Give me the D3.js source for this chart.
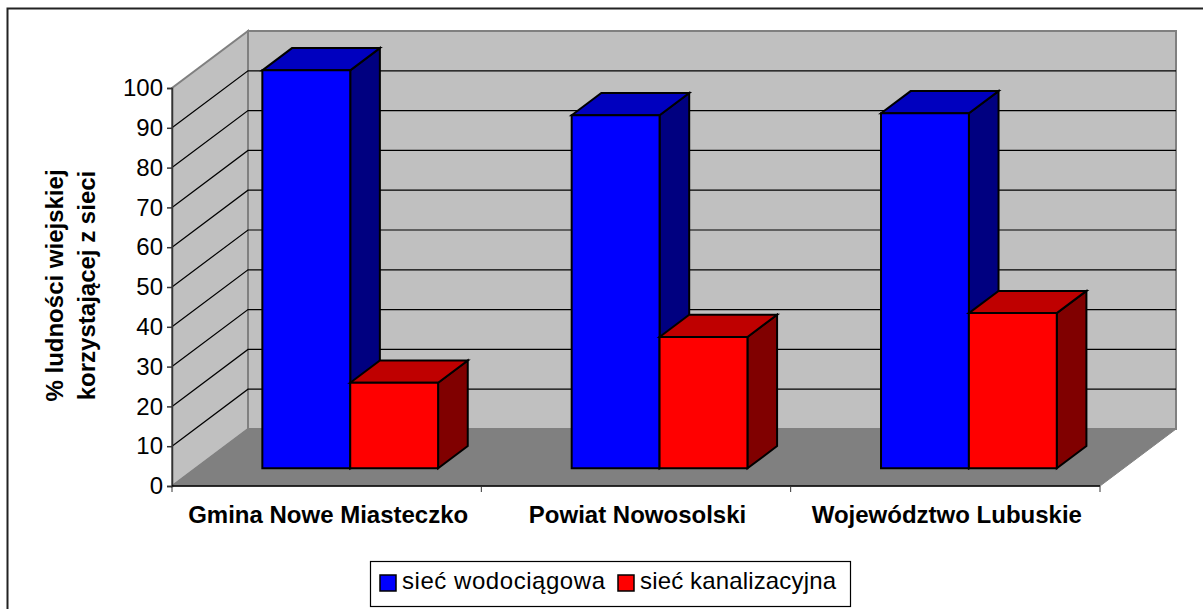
<!DOCTYPE html>
<html>
  <head>
    <meta charset="utf-8">
    <script type="text/javascript" src="https://d3js.org/d3.v7.min.js"></script>
    <title></title>
    <style media="screen">
      html, body { margin: 0; padding: 0; background: #fff; overflow: hidden; }
      svg { display: block; }
      text { font-family: "Liberation Sans", Arial, sans-serif; fill: #000; }
    </style>
  </head>
  <body>
    <script type="text/javascript">

    var categories = ["Gmina Nowe Miasteczko", "Powiat Nowosolski", "Województwo Lubuskie"];
    var seriesNames = ["sieć wodociągowa", "sieć kanalizacyjna"];
    var wodociagowa = [100, 88.7, 89.2];
    var kanalizacyjna = [21.5, 33, 39];
    var yTicks = [0, 10, 20, 30, 40, 50, 60, 70, 80, 90, 100];
    var yTitle = ["% ludności wiejskiej", "korzystającej z sieci"];

    var seriesValues = [wodociagowa, kanalizacyjna];
    var faceColors = [
      {front: "#0000ff", top: "#0000bf", side: "#000080"},
      {front: "#ff0000", top: "#bf0000", side: "#800000"}
    ];

    var width = 1203, height = 609;

    var svg = d3.select("body").append("svg")
        .attr("width", width)
        .attr("height", height);

    // front plane of the plot
    var x = d3.scaleBand().domain(categories).range([172, 1100]);
    var y = d3.scaleLinear().domain([0, 100]).range([486, 88]);

    // oblique projection, depth 0 = front of floor, 1 = back wall
    var depthX = d3.scaleLinear().domain([0, 1]).range([0, 76]);
    var depthY = d3.scaleLinear().domain([0, 1]).range([0, -57]);

    // two bars per category, gap of 75% of a bar on both sides
    var inner = d3.scaleBand().domain([0, 1]).range([0, x.bandwidth()]).paddingInner(0).paddingOuter(0.76);

    var barFront = 0.31, barBack = 0.70;

    function pt(px, value, depth) {
      return [px + depthX(depth), y(value) + depthY(depth)];
    }

    function poly(points) {
      return d3.line()(points) + "Z";
    }

    var x0 = x.range()[0], x1 = x.range()[1];

    // chart frame, its right and bottom edges are cut off by the window
    svg.append("rect")
        .attr("x", 7.5).attr("y", 8.5)
        .attr("width", 1300).attr("height", 640)
        .attr("fill", "#fff")
        .attr("stroke", "#222")
        .attr("stroke-width", 2);

    // walls and floor
    svg.append("path")
        .attr("d", poly([pt(x0, 0, 1), pt(x0, 100, 1), pt(x1, 100, 1), pt(x1, 0, 1)]))
        .attr("fill", "#c0c0c0")
        .attr("stroke", "#808080")
        .attr("stroke-width", 2);

    svg.append("path")
        .attr("d", poly([pt(x0, 0, 0), pt(x0, 100, 0), pt(x0, 100, 1), pt(x0, 0, 1)]))
        .attr("fill", "#c0c0c0")
        .attr("stroke", "#808080")
        .attr("stroke-width", 2);

    svg.append("path")
        .attr("d", poly([pt(x0, 0, 0), pt(x0, 0, 1), pt(x1, 0, 1), pt(x1, 0, 0)]))
        .attr("fill", "#808080")
        .attr("stroke", "#808080")
        .attr("stroke-width", 1);

    // gridlines, along side wall then back wall
    var grid = yTicks.filter(function(d) { return d > 0 && d < 100; });

    svg.append("g").selectAll("path")
        .data(grid)
      .enter().append("path")
        .attr("d", function(d) { return d3.line()([pt(x0, d, 0), pt(x0, d, 1), pt(x1, d, 1)]); })
        .attr("fill", "none")
        .attr("stroke", "#000")
        .attr("stroke-width", 1.2);

    // bars
    var bars = [];
    categories.forEach(function(c, i) {
      seriesValues.forEach(function(vals, s) {
        bars.push({cat: c, s: s, value: vals[i]});
      });
    });

    var bar = svg.append("g").selectAll("g")
        .data(bars)
      .enter().append("g")
        .attr("stroke", "#000")
        .attr("stroke-width", 2)
        .attr("stroke-linejoin", "miter");

    function left(d) { return x(d.cat) + inner(d.s); }
    function right(d) { return left(d) + inner.bandwidth(); }

    bar.append("path")
        .attr("d", function(d) {
          return poly([pt(right(d), 0, barFront), pt(right(d), d.value, barFront), pt(right(d), d.value, barBack), pt(right(d), 0, barBack)]);
        })
        .attr("fill", function(d) { return faceColors[d.s].side; });

    bar.append("path")
        .attr("d", function(d) {
          return poly([pt(left(d), d.value, barFront), pt(left(d), d.value, barBack), pt(right(d), d.value, barBack), pt(right(d), d.value, barFront)]);
        })
        .attr("fill", function(d) { return faceColors[d.s].top; });

    bar.append("path")
        .attr("d", function(d) {
          return poly([pt(left(d), 0, barFront), pt(left(d), d.value, barFront), pt(right(d), d.value, barFront), pt(right(d), 0, barFront)]);
        })
        .attr("fill", function(d) { return faceColors[d.s].front; });

    // axes
    var yAxis = d3.axisLeft(y).tickValues(yTicks).tickSize(5).tickPadding(4);
    var gy = svg.append("g").attr("transform", "translate(" + x0 + ",0)").call(yAxis);
    gy.selectAll("text").style("font-size", "24px").style("font-family", "Liberation Sans");
    gy.selectAll(".tick line, .domain").attr("stroke", "#333").attr("stroke-width", 1.5);

    var gx = svg.append("g").attr("transform", "translate(0," + y(0) + ")");
    gx.append("line")
        .attr("x1", x0).attr("x2", x1)
        .attr("stroke", "#000").attr("stroke-width", 1.5);

    var boundaries = categories.map(function(c) { return x(c); }).concat([x1]);
    gx.selectAll(".bound")
        .data(boundaries)
      .enter().append("line")
        .attr("class", "bound")
        .attr("x1", function(d) { return d; }).attr("x2", function(d) { return d; })
        .attr("y1", 0).attr("y2", 6)
        .attr("stroke", "#333");

    gx.selectAll(".lab")
        .data(categories)
      .enter().append("text")
        .attr("class", "lab")
        .attr("x", function(d) { return x(d) + x.bandwidth() / 2 + 1.5; })
        .attr("y", 37)
        .attr("text-anchor", "middle")
        .attr("font-weight", "bold")
        .attr("font-size", "24px")
        .text(function(d) { return d; });

    // y title
    svg.append("g")
        .attr("transform", "translate(63,285.5) rotate(-90)")
      .selectAll("text")
        .data(yTitle)
      .enter().append("text")
        .attr("x", 0)
        .attr("y", function(d, i) { return i * 32; })
        .attr("text-anchor", "middle")
        .attr("font-weight", "bold")
        .attr("font-size", "24px")
        .text(function(d) { return d; });

    // legend
    var legend = svg.append("g");
    legend.append("rect")
        .attr("x", 370.5).attr("y", 561.5)
        .attr("width", 480).attr("height", 45)
        .attr("fill", "#fff").attr("stroke", "#000").attr("stroke-width", 1.2);

    var legendX = [380, 618];
    var legendTextLen = [203, 196];
    seriesNames.forEach(function(name, i) {
      legend.append("rect")
          .attr("x", legendX[i]).attr("y", 575)
          .attr("width", 16).attr("height", 16)
          .attr("fill", faceColors[i].front)
          .attr("stroke", "#000").attr("stroke-width", 1.5);
      legend.append("text")
          .attr("x", legendX[i] + 22).attr("y", 589)
          .attr("font-size", "24px")
          .attr("textLength", legendTextLen[i])
          .attr("lengthAdjust", "spacing")
          .text(name);
    });

    </script>
  </body>
</html>
